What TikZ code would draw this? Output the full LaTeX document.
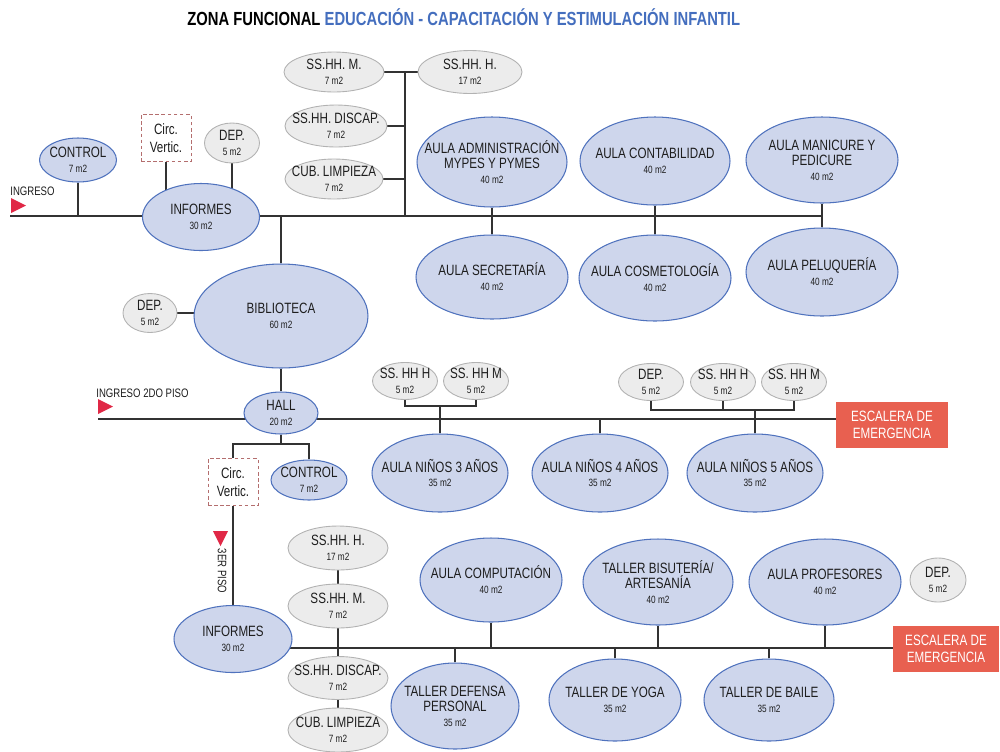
\documentclass[tikz,border=0pt]{standalone}
\usepackage{fontspec}
\setmainfont{Liberation Sans}[FakeStretch=0.78]
\usepackage{tikz}
\usetikzlibrary{shapes.geometric}
\usetikzlibrary{backgrounds}

\definecolor{aulafill}{RGB}{206,214,236}
\definecolor{aulaline}{RGB}{79,114,189}
\definecolor{servfill}{RGB}{236,236,236}
\definecolor{servline}{RGB}{178,178,178}
\definecolor{circline}{RGB}{180,110,110}
\definecolor{escfill}{RGB}{232,96,80}
\definecolor{flechared}{RGB}{224,40,70}
\definecolor{titblue}{RGB}{68,110,190}
\definecolor{linea}{RGB}{50,50,50}
\definecolor{texto}{RGB}{30,30,30}

\newcommand{\mdos}[1]{{\fontsize{6}{8.5}\selectfont #1}}

\begin{document}
\begin{tikzpicture}[x=0.02cm, y=-0.02cm]
		\tikzset{txt/.style={align=center, text=texto, inner sep=0pt, font=\fontsize{8.5}{8.5}\selectfont}}
		\tikzset{aula/.style n args={3}{ellipse, draw=aulaline, fill=aulafill, line width=0.6pt, inner sep=0pt, minimum width=#1, minimum height=#2, label={[txt]center:#3}}}
		\tikzset{serv/.style n args={3}{ellipse, draw=servline, fill=servfill, line width=0.5pt, inner sep=0pt, minimum width=#1, minimum height=#2, label={[txt]center:#3}}}
		\tikzset{circv/.style={draw=circline, dash pattern=on 2pt off 1.5pt, fill=white, minimum width=1cm, minimum height=0.94cm, inner sep=0pt, align=center, text=texto, font=\fontsize{8.5}{10}\selectfont}}
		\tikzset{escal/.style={fill=escfill, text=white, align=center, minimum height=0.92cm, inner sep=0pt, font=\fontsize{8.5}{10}\selectfont}}
		\tikzset{etiq/.style={text=texto, inner sep=0pt, font=\fontsize{7}{7}\selectfont}}
		\tikzset{edge/.style={draw=linea, line width=0.7pt}}
		\tikzset{flecha/.style={fill=flechared}}
		\useasboundingbox (0,0) rectangle (1000,751);
		%title
		\node[anchor=west, inner sep=0pt, font=\bfseries\fontsize{10.8}{11}\selectfont] (titulo) at (187,17) {ZONA FUNCIONAL \textcolor{titblue}{EDUCACIÓN - CAPACITACIÓN Y ESTIMULACIÓN INFANTIL}};
		%first floor
		\node[aula={2.34cm}{1.34cm}{INFORMES\\\mdos{30 m2}}] (inf1) at (201,217) {};
		\node[aula={1.54cm}{0.88cm}{CONTROL\\\mdos{7 m2}}] (ctrl1) at (78,160) {};
		\node[circv] (circ1) at (166,138) {Circ.\\Vertic.};
		\node[serv={1.1cm}{0.8cm}{DEP.\\\mdos{5 m2}}] (dep1) at (232,143) {};
		\node[serv={2cm}{0.8cm}{SS.HH. M.\\\mdos{7 m2}}] (ssm1) at (334,72) {};
		\node[serv={2.08cm}{0.86cm}{SS.HH. H.\\\mdos{17 m2}}] (ssh1) at (470,72) {};
		\node[serv={2.04cm}{0.84cm}{SS.HH. DISCAP.\\\mdos{7 m2}}] (disc1) at (336,126) {};
		\node[serv={1.96cm}{0.8cm}{CUB. LIMPIEZA\\\mdos{7 m2}}] (cub1) at (334,179) {};
		\node[aula={3cm}{1.8cm}{AULA ADMINISTRACIÓN\\MYPES Y PYMES\\\mdos{40 m2}}] (admin) at (492,162) {};
		\node[aula={3cm}{1.76cm}{AULA CONTABILIDAD\\\mdos{40 m2}}] (conta) at (655,161) {};
		\node[aula={3.04cm}{1.72cm}{AULA MANICURE Y\\PEDICURE\\\mdos{40 m2}}] (mani) at (822,160) {};
		\node[aula={3.04cm}{1.68cm}{AULA SECRETARÍA\\\mdos{40 m2}}] (secre) at (492,277) {};
		\node[aula={3.04cm}{1.72cm}{AULA COSMETOLOGÍA\\\mdos{40 m2}}] (cosme) at (655,278) {};
		\node[aula={3.04cm}{1.76cm}{AULA PELUQUERÍA\\\mdos{40 m2}}] (pelu) at (822,272) {};
		\node[aula={3.48cm}{2.08cm}{BIBLIOTECA\\\mdos{60 m2}}] (biblio) at (281,316) {};
		\node[serv={1.08cm}{0.78cm}{DEP.\\\mdos{5 m2}}] (dep2) at (150,313) {};
		%second floor
		\node[aula={1.48cm}{0.84cm}{HALL\\\mdos{20 m2}}] (hall) at (281,413) {};
		\node[circv] (circ2) at (233,482) {Circ.\\Vertic.};
		\node[aula={1.52cm}{0.8cm}{CONTROL\\\mdos{7 m2}}] (ctrl2) at (309,480) {};
		\node[serv={1.3cm}{0.74cm}{SS. HH H\\\mdos{5 m2}}] (ssh2) at (405,381) {};
		\node[serv={1.3cm}{0.74cm}{SS. HH M\\\mdos{5 m2}}] (ssm2) at (476,381) {};
		\node[serv={1.3cm}{0.74cm}{DEP.\\\mdos{5 m2}}] (dep3) at (651,382) {};
		\node[serv={1.3cm}{0.74cm}{SS. HH H\\\mdos{5 m2}}] (ssh3) at (723,382) {};
		\node[serv={1.3cm}{0.74cm}{SS. HH M\\\mdos{5 m2}}] (ssm3) at (794,382) {};
		\node[aula={2.72cm}{1.56cm}{AULA NIÑOS 3 AÑOS\\\mdos{35 m2}}] (n3) at (440,473) {};
		\node[aula={2.72cm}{1.56cm}{AULA NIÑOS 4 AÑOS\\\mdos{35 m2}}] (n4) at (600,473) {};
		\node[aula={2.72cm}{1.56cm}{AULA NIÑOS 5 AÑOS\\\mdos{35 m2}}] (n5) at (755,473) {};
		\node[escal, minimum width=2.24cm] (esc1) at (892,425) {ESCALERA DE\\EMERGENCIA};
		%third floor
		\node[aula={2.36cm}{1.34cm}{INFORMES\\\mdos{30 m2}}] (inf3) at (233,639) {};
		\node[serv={2cm}{0.88cm}{SS.HH. H.\\\mdos{17 m2}}] (ssh4) at (338,548) {};
		\node[serv={2cm}{0.88cm}{SS.HH. M.\\\mdos{7 m2}}] (ssm4) at (338,606) {};
		\node[serv={2cm}{0.86cm}{SS.HH. DISCAP.\\\mdos{7 m2}}] (disc2) at (338,678) {};
		\node[serv={2cm}{0.88cm}{CUB. LIMPIEZA\\\mdos{7 m2}}] (cub2) at (338,730) {};
		\node[aula={2.84cm}{1.68cm}{AULA COMPUTACIÓN\\\mdos{40 m2}}] (comp) at (491,580) {};
		\node[aula={3cm}{1.72cm}{TALLER BISUTERÍA/\\ARTESANÍA\\\mdos{40 m2}}] (bisu) at (658,582) {};
		\node[aula={3.04cm}{1.72cm}{AULA PROFESORES\\\mdos{40 m2}}] (prof) at (825,582) {};
		\node[serv={1.12cm}{0.88cm}{DEP.\\\mdos{5 m2}}] (dep4) at (938,580) {};
		\node[aula={2.56cm}{1.72cm}{TALLER DEFENSA\\PERSONAL\\\mdos{35 m2}}] (defe) at (455,706) {};
		\node[aula={2.64cm}{1.64cm}{TALLER DE YOGA\\\mdos{35 m2}}] (yoga) at (615,700) {};
		\node[aula={2.6cm}{1.64cm}{TALLER DE BAILE\\\mdos{35 m2}}] (baile) at (769,700) {};
		\node[escal, minimum width=2.12cm] (esc2) at (946,649) {ESCALERA DE\\EMERGENCIA};
		%entrances
		\node[etiq, anchor=west] (ing1) at (10,191) {INGRESO};
		\node[etiq, anchor=west] (ing2) at (96,393) {INGRESO 2DO PISO};
		\node[etiq, rotate=-90] (ing3) at (222,571) {3ER PISO};
		\fill[flecha] (11,198) -- (26,205.5) -- (11,213) -- cycle;
		\fill[flecha] (98,399) -- (113,406.5) -- (98,414) -- cycle;
		\fill[flecha] (213,531) -- (228,531) -- (220.5,546) -- cycle;
		%corridors
		\coordinate (l1s) at (10,216);
		\coordinate (l1e) at (822,216);
		\coordinate (l2s) at (98,419);
		\coordinate (l3s) at (233,648);
		\coordinate (sp1) at (405,72);
		\coordinate (hb) at (281,444);
		\coordinate (b2a) at (440,406);
		\coordinate (b2b) at (755,410);
		%edges
		\begin{scope}[on background layer]
		\draw[edge] (l1s) -- (l1e);
		\draw[edge] (ctrl1) -- (ctrl1 |- l1s);
		\draw[edge] (circ1) -- (circ1 |- inf1);
		\draw[edge] (dep1) -- (dep1 |- inf1);
		\draw[edge] (ssm1) -- (ssh1);
		\draw[edge] (sp1) -- (sp1 |- l1s);
		\draw[edge] (disc1) -- (disc1 -| sp1);
		\draw[edge] (cub1) -- (cub1 -| sp1);
		\draw[edge] (admin) -- (secre);
		\draw[edge] (conta) -- (cosme);
		\draw[edge] (mani) -- (pelu);
		\draw[edge] (biblio) -- (biblio |- l1s);
		\draw[edge] (dep2) -- (dep2 -| biblio);
		\draw[edge] (biblio) -- (hall);
		\draw[edge] (l2s) -- (l2s -| esc1.west);
		\draw[edge] (hall) -- (hb);
		\draw[edge] (circ2) |- (hb) -| (ctrl2);
		\draw[edge] (ssh2) |- (b2a) -| (ssm2);
		\draw[edge] (b2a) -- (n3);
		\draw[edge] (n4) -- (n4 |- l2s);
		\draw[edge] (dep3) |- (b2b) -| (ssm3);
		\draw[edge] (ssh3) -- (ssh3 |- b2b);
		\draw[edge] (b2b) -- (n5);
		\draw[edge] (circ2) -- (inf3);
		\draw[edge] (l3s) -- (l3s -| esc2.west);
		\draw[edge] (ssh4) -- (cub2);
		\draw[edge] (comp) -- (comp |- l3s);
		\draw[edge] (bisu) -- (bisu |- l3s);
		\draw[edge] (prof) -- (prof |- l3s);
		\draw[edge] (defe) -- (defe |- l3s);
		\draw[edge] (yoga) -- (yoga |- l3s);
		\draw[edge] (baile) -- (baile |- l3s);
		\end{scope}
\end{tikzpicture}
\end{document}
